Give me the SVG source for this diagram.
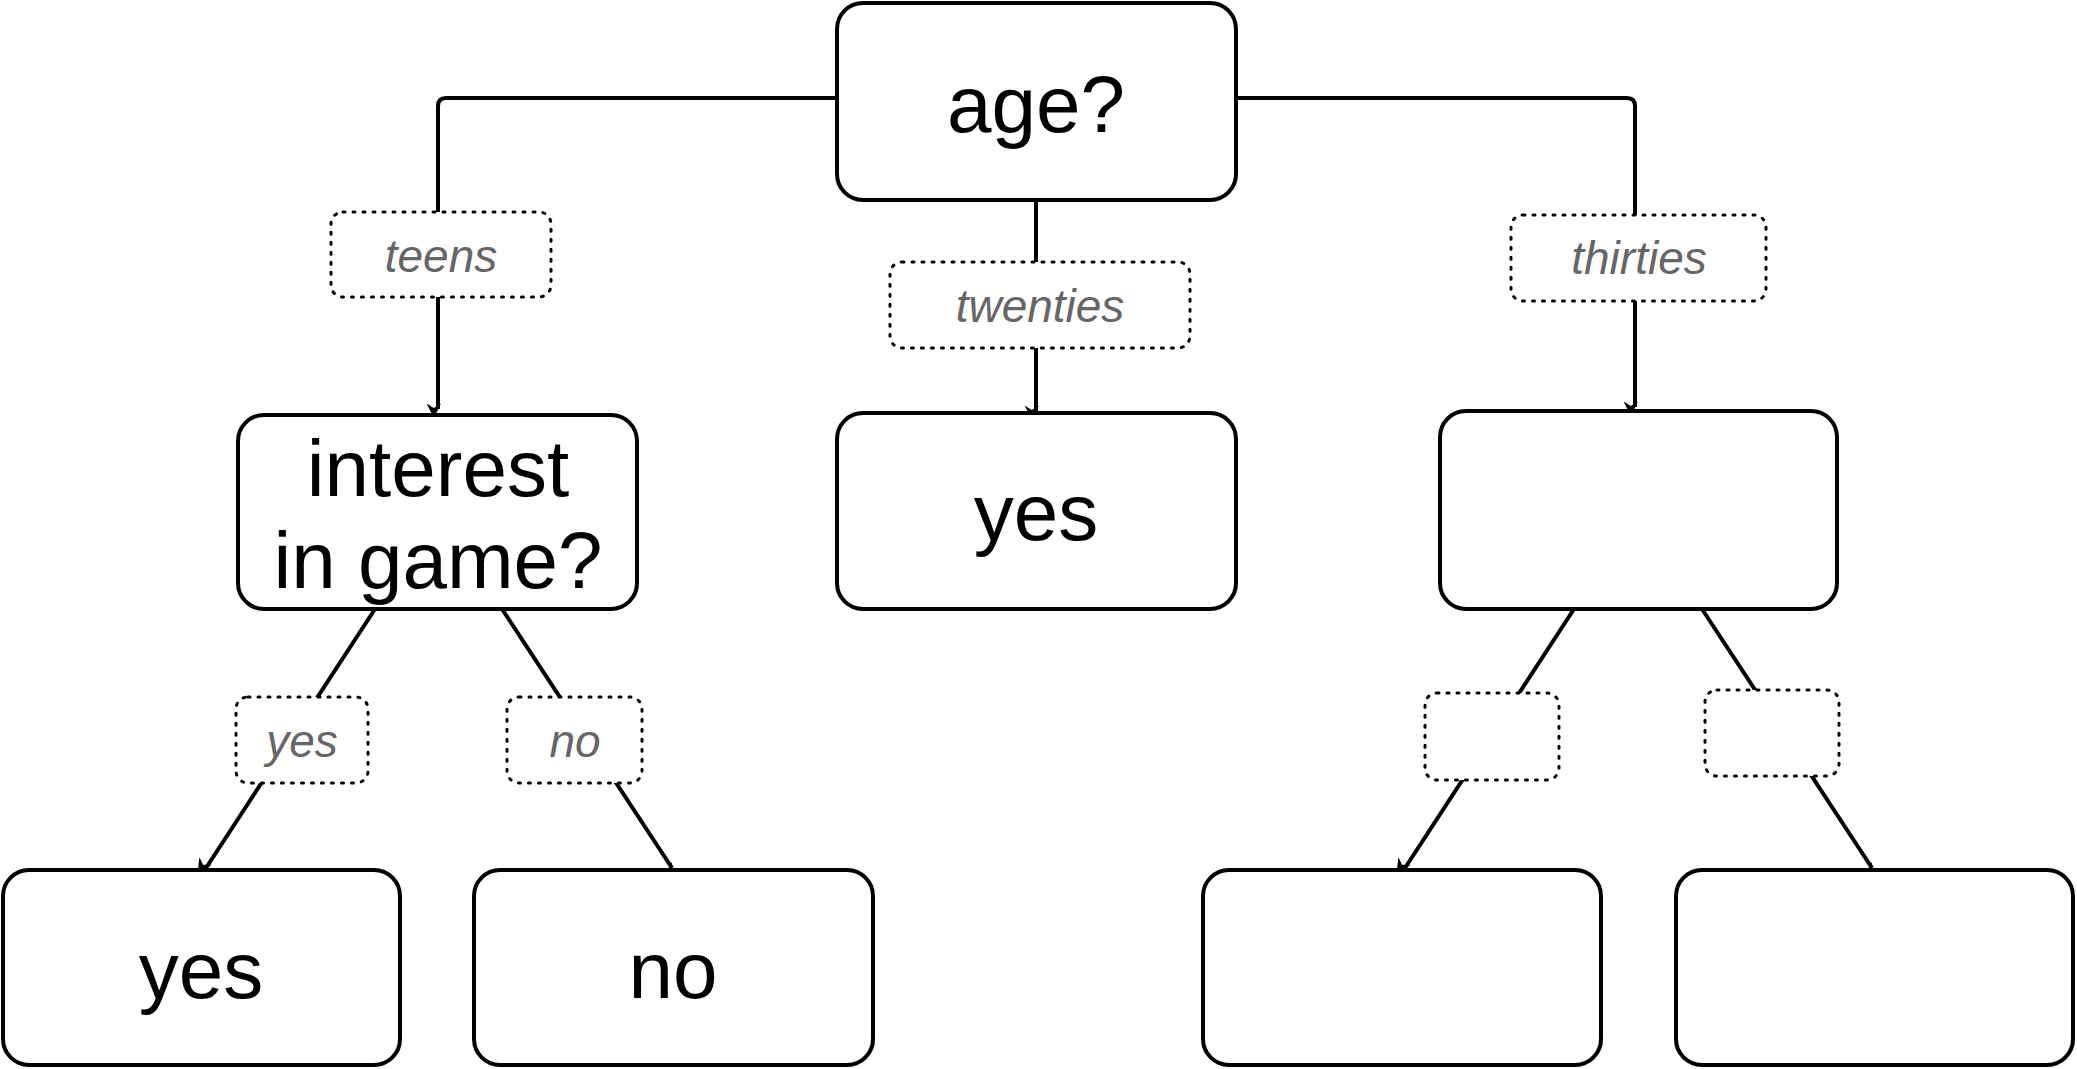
<svg xmlns="http://www.w3.org/2000/svg" width="2077" height="1069" viewBox="0 0 2077 1069">
<style>
.n{fill:#fff;stroke:#000;stroke-width:4}
.t{font-family:"Liberation Sans",Arial,sans-serif;font-size:80px;text-anchor:middle;fill:#000}
.c{fill:none;stroke:#000;stroke-width:4}
.l{fill:#fff;stroke:#000;stroke-width:3;stroke-dasharray:2 8;stroke-linecap:round}
.lt{font-family:"Liberation Sans",Arial,sans-serif;font-size:46px;font-style:italic;text-anchor:middle;fill:#666}
</style>
<defs><marker id="a" viewBox="0 0 10 10" refX="9" refY="5" markerWidth="6" markerHeight="6" markerUnits="userSpaceOnUse" orient="auto" style="overflow:visible"><path d="M0,0 L10,5 L0,10 L3,5 Z" transform="scale(2.4) translate(-6,-5) translate(6,5)" fill="#000"/></marker></defs>
<g id="connectors">
<path class="c" d="M837,98 H446 Q438,98 438,106 V409" marker-end="url(#a)"/>
<path class="c" d="M1236,98 H1627 Q1635,98 1635,106 V407" marker-end="url(#a)"/>
<path class="c" d="M1036,200 V411" marker-end="url(#a)"/>
<path class="c" d="M375,609 L206,868" marker-end="url(#a)"/>
<path class="c" d="M502,609 L672,868" marker-end="url(#a)"/>
<path class="c" d="M1574,609 L1405,868" marker-end="url(#a)"/>
<path class="c" d="M1702,609 L1872,868" marker-end="url(#a)"/>
<rect class="l" x="331" y="212" width="220" height="85" rx="12"/><text class="lt" x="441" y="272">teens</text>
<rect class="l" x="890" y="262" width="300" height="86" rx="12"/><text class="lt" x="1040" y="322">twenties</text>
<rect class="l" x="1511" y="215" width="255" height="86" rx="12"/><text class="lt" x="1639" y="274">thirties</text>
<rect class="l" x="236" y="697" width="132" height="86" rx="12"/><text class="lt" x="302" y="757">yes</text>
<rect class="l" x="507" y="697" width="135" height="86" rx="12"/><text class="lt" x="575" y="757">no</text>
<rect class="l" x="1425" y="693" width="134" height="87" rx="12"/>
<rect class="l" x="1705" y="690" width="134" height="86" rx="12"/>
</g>
<g id="age"><rect class="n" x="837" y="3" width="399" height="197" rx="26"/><text class="t" x="1036" y="132">age?</text></g>
<g id="interest"><rect class="n" x="238" y="415" width="399" height="194" rx="26"/><text class="t" x="438" y="496">interest</text><text class="t" x="438" y="588">in game?</text></g>
<g id="yes1"><rect class="n" x="837" y="413" width="399" height="196" rx="26"/><text class="t" x="1036" y="540">yes</text></g>
<g id="blank1"><rect class="n" x="1440" y="411" width="397" height="198" rx="26"/></g>
<g id="yes2"><rect class="n" x="3" y="870" width="397" height="195" rx="26"/><text class="t" x="201" y="998">yes</text></g>
<g id="no"><rect class="n" x="474" y="870" width="399" height="195" rx="26"/><text class="t" x="673" y="998">no</text></g>
<g id="blank2"><rect class="n" x="1203" y="870" width="398" height="195" rx="26"/></g>
<g id="blank3"><rect class="n" x="1676" y="870" width="397" height="195" rx="26"/></g>
</svg>
